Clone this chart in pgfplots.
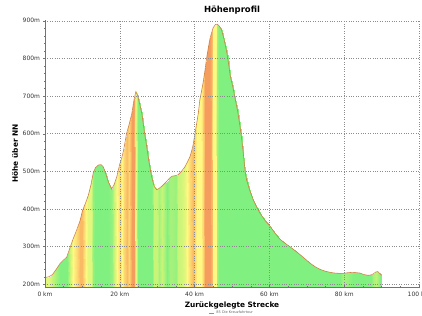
\documentclass[border=0pt]{standalone}
\usepackage{pgfplots}
\usepackage{pgfplotstable}
\pgfplotsset{compat=1.18}
\usepackage{fontspec}
\setmainfont{DejaVu Sans}
\definecolor{linecol}{RGB}{205,130,70}
\definecolor{gridcol}{RGB}{140,140,140}

% top of profile: km, m, slope class (0 green ... 4 red)
\pgfplotstableread{
x y c
0 218 1.5
1 220 1.5
2 226 1
3 240 0.5
4 255 0
5 265 0
5.8 272 0
6.7 298 1
7.5 320 2
8.5 345 2.5
9.4 370 3
10 395 3
11 420 2
11.6 437 1.5
12.3 465 1.5
12.9 496 0.3
13.5 510 0
14.3 517 0
15 518 0
15.6 512 0
16.3 492 0
16.9 473 0
17.8 453 0.3
18.5 465 1
19.2 486 2
20 520 2.5
20.5 535 2
21 555 2.5
21.8 600 3
22.5 625 2.5
23.2 653 3.5
23.8 690 3.5
24.3 712 1.5
24.8 700 0
25.4 675 0
25.9 653 0
26.5 610 0
27.2 565 0
27.8 525 0
28.5 486 0
29.2 460 1
29.9 451 1
30.5 455 0.5
31.2 460 1
32 468 0.5
32.5 473 0
33.3 482 0.5
33.9 487 0.5
35 489 0.3
35.6 491 1
36.5 500 1.2
37.4 512 1.5
38.1 525 2
38.8 540 2.5
39.5 565 3
40.1 600 2.5
40.6 630 2
41 655 2
41.4 690 2
41.8 710 2
42.3 737 2.5
42.8 770 3.5
43.2 800 3.5
43.7 830 3.5
44.1 852 3.5
44.6 870 3
45 882 2
45.6 890 2
46.1 891 0.5
46.6 886 0
47.2 876 0
47.9 850 0
48.6 816 0
49.1 785 0
49.5 755 0
50.2 725 0
50.8 695 0
51.5 660 0
52.1 622 0
52.6 585 0
53 550 0
53.5 500 0
53.9 477 0
54.8 448 0
55.7 424 0
56.6 405 0
57.5 389 0
58.8 370 0
60.2 354 0
61.5 336 0
62.8 320 0
64.2 309 0
65.5 300 0
66.8 290 0
68.2 279 0
69.5 268 0
70.9 256 0
72.2 247 0
73.5 240 0
74.9 235 0
76.2 232 0
77.5 230 0
78.9 229 0
79.8 229 0.5
81 231 0.3
82.4 232 0
83.3 231 0
84.2 230 0
85.3 226 0
86.4 224 0
87.2 225 0
87.8 228 0.5
88.5 233 0.8
89 234 0.5
89.5 229 0
90 224 0
}\prof

% bottom edge of the coloured area (same km and slope class)
\pgfplotstableread{
x y c
0 193 1.5
1 193 1.5
2 193 1
3 193 0.5
4 193 0
5 193 0
5.8 193 0
6.7 193 1
7.5 193 2
8.5 193 2.5
9.4 193 3
10 193 3
11 193 2
11.6 193 1.5
12.3 193 1.5
12.9 193 0.3
13.5 193 0
14.3 193 0
15 193 0
15.6 193 0
16.3 193 0
16.9 193 0
17.8 193 0.3
18.5 193 1
19.2 193 2
20 193 2.5
20.5 193 2
21 193 2.5
21.8 193 3
22.5 193 2.5
23.2 193 3.5
23.8 193 3.5
24.3 193 1.5
24.8 193 0
25.4 193 0
25.9 193 0
26.5 193 0
27.2 193 0
27.8 193 0
28.5 193 0
29.2 193 1
29.9 193 1
30.5 193 0.5
31.2 193 1
32 193 0.5
32.5 193 0
33.3 193 0.5
33.9 193 0.5
35 193 0.3
35.6 193 1
36.5 193 1.2
37.4 193 1.5
38.1 193 2
38.8 193 2.5
39.5 193 3
40.1 193 2.5
40.6 193 2
41 193 2
41.4 193 2
41.8 193 2
42.3 193 2.5
42.8 193 3.5
43.2 193 3.5
43.7 193 3.5
44.1 193 3.5
44.6 193 3
45 193 2
45.6 193 2
46.1 193 0.5
46.6 193 0
47.2 193 0
47.9 193 0
48.6 193 0
49.1 193 0
49.5 193 0
50.2 193 0
50.8 193 0
51.5 193 0
52.1 193 0
52.6 193 0
53 193 0
53.5 193 0
53.9 193 0
54.8 193 0
55.7 193 0
56.6 193 0
57.5 193 0
58.8 193 0
60.2 193 0
61.5 193 0
62.8 193 0
64.2 193 0
65.5 193 0
66.8 193 0
68.2 193 0
69.5 193 0
70.9 193 0
72.2 193 0
73.5 193 0
74.9 193 0
76.2 193 0
77.5 193 0
78.9 193 0
79.8 193 0.5
81 193 0.3
82.4 193 0
83.3 193 0
84.2 193 0
85.3 193 0
86.4 193 0
87.2 193 0
87.8 193 0.5
88.5 193 0.8
89 193 0.5
89.5 193 0
90 193 0
}\surfdata
\pgfplotstablevertcat{\surfdata}{\prof}

\begin{document}
\begin{tikzpicture}
\begin{axis}[
  name=ax,
  scale only axis,
  width=374bp, height=267bp,
  xmin=0, xmax=100, ymin=193, ymax=902,
  xtick={0,20,...,100}, ytick={200,300,...,900},
  minor x tick num=3, minor y tick num=4,
  tick align=outside,
  major tick length=3bp, minor tick length=2bp,
  tick style={black!55, thin},
  axis lines=left,
  axis line style={-, black!55, thin},
  axis on top,
  grid=major,
  major grid style={gridcol, dotted, line width=0.45pt},
  /pgf/number format/assume math mode=true,
  xticklabel={\pgfmathprintnumber{\tick} km},
  yticklabel={\pgfmathprintnumber{\tick}m},
  ticklabel style={font=\fontsize{6}{7}\selectfont, text=black!80},
  xlabel={Zurückgelegte Strecke},
  ylabel={Höhe über NN},
  label style={font=\bfseries\fontsize{7.4}{8.5}\selectfont},
  xlabel style={at={(axis description cs:0.5,-0.0674)}, anchor=center},
  ylabel style={at={(axis description cs:-0.08,0.5)}, anchor=center},
  title={Höhenprofil},
  title style={font=\bfseries\fontsize{8.5}{10}\selectfont, at={(axis description cs:0.5,1.0146)}, anchor=center},
  colormap={slope}{rgb255(0)=(128,240,128); rgb255(1)=(200,245,120); rgb255(2)=(255,248,130); rgb255(3)=(250,185,100); rgb255(4)=(240,130,90)},
  point meta min=0, point meta max=4,
  legend style={at={(axis description cs:0.5,-0.097)}, anchor=center, draw=none, fill=none,
    font=\fontsize{3.5}{4}\selectfont, text=black!60, inner sep=0pt},
  legend image code/.code={\draw[#1, line width=0.4pt] (0bp,0bp) -- (5bp,0bp);},
]
\addplot[surf, shader=interp, mesh/rows=2, point meta=explicit, forget plot]
  table[x=x, y=y, meta=c] {\surfdata};
\addplot[draw=linecol, line width=0.6pt] table[x=x, y=y] {\prof};
\addlegendentry{85 Die Kreuzfahrtour}
\end{axis}
\pgfresetboundingbox
\path[use as bounding box] ([xshift=-45bp,yshift=-29bp]ax.south west) rectangle ([xshift=3bp,yshift=20bp]ax.north east);
\end{tikzpicture}
\end{document}
